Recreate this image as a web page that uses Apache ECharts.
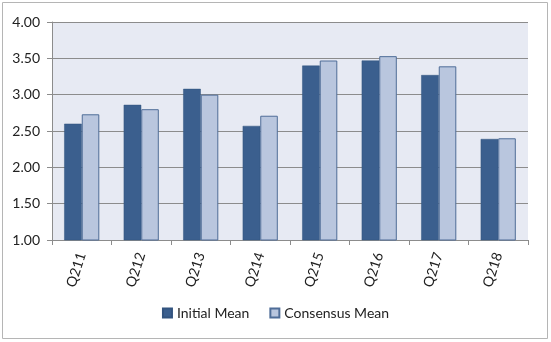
<!DOCTYPE html>
<html>
<head>
<meta charset="utf-8">
<script src="https://cdn.jsdelivr.net/npm/echarts@6/dist/echarts.min.js"></script>
<style>
  html, body { margin: 0; padding: 0; background: #fff; }
  #chart { width: 551px; height: 342px; }
</style>
</head>
<body>
<div id="chart"></div>
<script>
const categories = ["Q211", "Q212", "Q213", "Q214", "Q215", "Q216", "Q217", "Q218"];
const initialMean = [2.60, 2.86, 3.08, 2.57, 3.40, 3.47, 3.27, 2.39];
const consensusMean = [2.73, 2.80, 3.00, 2.71, 3.47, 3.53, 3.39, 2.40];
const yTicks = { min: 1, max: 4, step: 0.5 };

let myChart = echarts.init(document.getElementById("chart"));
let fontName = "Lato";

let option = {
  animation: false,
  graphic: [
    {
      type: "rect",
      shape: { x: 2.5, y: 2.5, width: 545, height: 336 },
      style: { fill: "none", stroke: "#b5b5b5", lineWidth: 1 },
    },
  ],
  grid: {
    left: 52,
    right: 23,
    top: 22,
    bottom: 102,
    show: true,
    backgroundColor: "#e7eaf3",
    borderWidth: 0,
  },
  legend: {
    bottom: 17,
    left: "center",
    itemWidth: 9,
    itemHeight: 9,
    itemGap: 20,
    icon: "rect",
    textStyle: { fontFamily: fontName, fontSize: 14, color: "#222" },
    data: ["Initial Mean", "Consensus Mean"],
  },
  xAxis: {
    type: "category",
    data: categories,
    axisLine: { lineStyle: { color: "#8c8c8c" } },
    axisTick: { show: true, alignWithLabel: false, length: 5, lineStyle: { color: "#8c8c8c" } },
    axisLabel: {
      rotate: 72,
      margin: 13,
      fontFamily: fontName,
      fontSize: 14,
      color: "#222",
    },
  },
  yAxis: {
    type: "value",
    min: yTicks.min,
    max: yTicks.max,
    interval: yTicks.step,
    axisLine: { show: true, lineStyle: { color: "#8c8c8c" } },
    axisTick: { show: true, length: 5, lineStyle: { color: "#8c8c8c" } },
    splitLine: { lineStyle: { color: "#8c8c8c" } },
    axisLabel: {
      formatter: (v) => v.toFixed(2),
      fontFamily: fontName,
      fontSize: 14,
      color: "#222",
      margin: 12,
    },
  },
  series: [
    {
      name: "Initial Mean",
      type: "bar",
      data: initialMean,
      barGap: "0%",
      barCategoryGap: "41%",
      itemStyle: { color: "#3b5f8e", borderColor: "#33547f", borderWidth: 0.5 },
    },
    {
      name: "Consensus Mean",
      type: "bar",
      data: consensusMean,
      itemStyle: { color: "#b9c6de", borderColor: "#4f6d98", borderWidth: 1 },
    },
  ],
};
option && myChart.setOption(option);
</script>
</body>
</html>
